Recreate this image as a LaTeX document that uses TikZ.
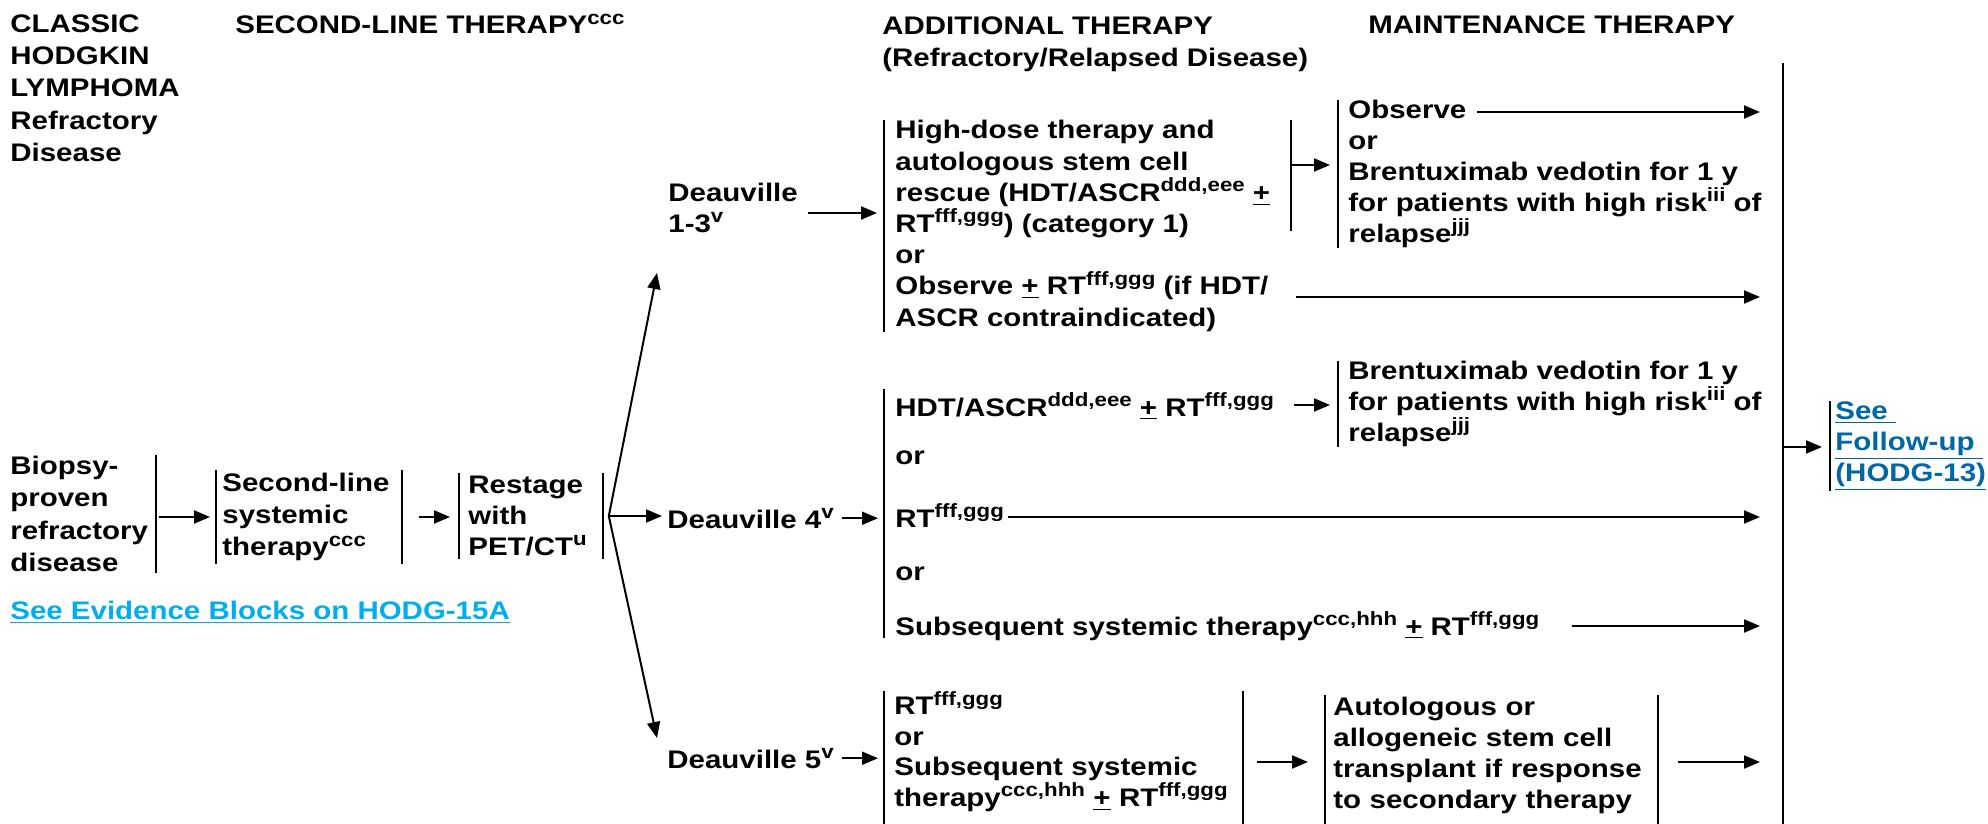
\documentclass[tikz,border=0pt]{standalone}
\usepackage{fontspec}
\setmainfont{Liberation Sans}[FakeStretch=1.16]
\usetikzlibrary{arrows.meta}

\definecolor{evblue}{HTML}{00AEEF}
\definecolor{fublue}{HTML}{0067A5}
\newcommand{\pmu}{\underline{+}}
\newcommand{\su}[1]{\raisebox{0.38em}{\fontsize{9.6}{10}\selectfont #1}}

\begin{document}
\begin{tikzpicture}[x=0.5pt,y=-0.5pt,
  txt/.style={inner sep=0pt,align=left,font=\bfseries\fontsize{12.7}{15.5}\selectfont},
  hdr/.style={txt,font=\bfseries\fontsize{12.7}{16.2}\selectfont},
  arr/.style={line width=1pt,-{Triangle[length=8pt,width=6.5pt]}},
  brk/.style={line width=0.8pt}]
  \useasboundingbox (0,0) rectangle (1988,824);

  % column heads
  \node[hdr,anchor=north west] (hcl) at (10,14) {CLASSIC\\HODGKIN\\LYMPHOMA\\Refractory\\Disease};
  \node[hdr,anchor=base west] (hsl) at (235,34) {SECOND-LINE THERAPY\su{ccc}};
  \node[hdr,anchor=north west] (had) at (882,16) {ADDITIONAL THERAPY\\(Refractory/Relapsed Disease)};
  \node[hdr,anchor=base west] (hmt) at (1368,34) {MAINTENANCE THERAPY};

  % second-line therapy
  \node[hdr,anchor=west,text width=72.5pt,minimum height=59pt] (bio) at (10,514) {Biopsy-\\proven\\refractory\\disease};
  \draw[brk] (bio.north east) -- (bio.south east);
  \node[hdr,anchor=west,inner xsep=3pt,text width=86.5pt,minimum height=47pt] (slt) at (216,517) {Second-line\\systemic\\therapy\su{ccc}};
  \draw[brk] (slt.north west) -- (slt.south west) (slt.north east) -- (slt.south east);
  \node[txt,anchor=west,inner xsep=4.5pt,text width=62.5pt,minimum height=42.5pt] (rst) at (459,516) {Restage\\with\\PET/CT\su{u}};
  \draw[brk] (rst.north west) -- (rst.south west) (rst.north east) -- (rst.south east);
  \coordinate (j0) at (0,517);
  \draw[arr,shorten <=1.5pt,shorten >=3pt] (j0 -| bio.east) -- (j0 -| slt.west);
  \draw[arr,shorten <=8.5pt,shorten >=4.5pt] (j0 -| slt.east) -- (j0 -| rst.west);
  \node[txt,anchor=base west,text=evblue] (evb) at (10,619) {\underline{See Evidence Blocks on HODG-15A}};

  % restaging result
  \coordinate (fork) at ([xshift=3pt]rst.east);
  \coordinate (t13) at (657,273);
  \coordinate (t5) at (657,738);
  \node[txt,anchor=west] (d13) at (668,208) {Deauville\\1-3\su{v}};
  \node[txt,anchor=base west] (d4) at (667,528) {Deauville 4\su{v}};
  \node[txt,anchor=base west] (d5) at (667,768) {Deauville 5\su{v}};
  \draw[arr] (fork) -- (t13);
  \draw[arr,shorten >=2.5pt] (fork) -- (fork -| d4.west);
  \draw[arr] (fork) -- (t5);

  % Deauville 1-3
  \node[txt,anchor=west,inner xsep=5.5pt,font=\bfseries\fontsize{12.7}{15.6}\selectfont] (ad1) at (884,226) {High-dose therapy and\\autologous stem cell\\rescue (HDT/ASCR\su{ddd,eee} \pmu\\RT\su{fff,ggg}) (category 1)\\or\\Observe \pmu\ RT\su{fff,ggg} (if HDT/\\ASCR contraindicated)};
  \draw[brk] (ad1.north west) -- (ad1.south west);
  \coordinate (j13) at (0,213);
  \draw[arr,shorten <=5pt,shorten >=3.5pt] (j13 -| d13.east) -- (j13 -| ad1.west);
  \node[txt,anchor=west,inner xsep=5pt] (mt1) at (1338,174) {Observe\\or\\Brentuximab vedotin for 1 y\\for patients with high risk\su{iii} of\\relapse\su{jjj}};
  \draw[brk] (mt1.north west) -- (mt1.south west);
  \coordinate (j1t) at (1291,120);
  \coordinate (j1b) at (1291,231);
  \coordinate (j1) at (1291,165);
  \draw[brk] (j1t) -- (j1b);
  \draw[arr,shorten >=4pt] (j1) -- (j1 -| mt1.west);

  % follow-up column
  \coordinate (endx) at (1760,0);
  \coordinate (vtop) at (1783,63);
  \coordinate (vbot) at (1783,824);
  \coordinate (vmid) at (1783,447);
  \draw[line width=1pt] (vtop) -- (vbot);
  \node[txt,anchor=west,inner xsep=2.5pt,text=fublue] (fu) at (1830,446) {\underline{See~}\\\underline{Follow-up~}\\\underline{(HODG-13)}};
  \draw[brk] (fu.north west) -- (fu.south west);
  \draw[arr,shorten >=4pt] (vmid) -- (vmid -| fu.west);
  \coordinate (obs) at (1477,112);
  \coordinate (orx) at (1296,297);
  \draw[arr] (obs) -- (obs -| endx);
  \draw[arr] (orx) -- (orx -| endx);

  % Deauville 4
  \coordinate (b4t) at (884,389);
  \coordinate (b4b) at (884,638);
  \draw[brk] (b4t) -- (b4b);
  \draw[arr,shorten <=4pt,shorten >=3pt] (d4.east) -- (d4.east -| b4t);
  \node[txt,anchor=base west] (r4a) at (895,416) {HDT/ASCR\su{ddd,eee} \pmu\ RT\su{fff,ggg}};
  \node[txt,anchor=base west] (r4b) at (895,464) {or};
  \node[txt,anchor=base west] (r4c) at (895,527) {RT\su{fff,ggg}};
  \node[txt,anchor=base west] (r4d) at (895,580) {or};
  \node[txt,anchor=base west] (r4e) at (895,635) {Subsequent systemic therapy\su{ccc,hhh} \pmu\ RT\su{fff,ggg}};
  \node[txt,anchor=west,inner xsep=5pt] (bx4) at (1338,404) {Brentuximab vedotin for 1 y\\for patients with high risk\su{iii} of\\relapse\su{jjj}};
  \draw[brk] (bx4.north west) -- (bx4.south west);
  \coordinate (j2) at (1294,405);
  \coordinate (j4) at (1572,626);
  \draw[arr,shorten >=4pt] (j2) -- (j2 -| bx4.west);
  \draw[arr,shorten <=2pt] ([yshift=5pt]r4c.base east) -- ([yshift=5pt]r4c.base east -| endx);
  \draw[arr] (j4) -- (j4 -| endx);

  % Deauville 5
  \node[txt,anchor=north west,inner xsep=5pt,text width=169pt,font=\bfseries\fontsize{12.7}{15.2}\selectfont] (ad5) at (884,691) {RT\su{fff,ggg}\\or\\Subsequent systemic\\therapy\su{ccc,hhh} \pmu\ RT\su{fff,ggg}};
  \draw[brk] (ad5.north west) -- (ad5.north west |- vbot) (ad5.north east) -- (ad5.north east |- vbot);
  \node[txt,anchor=north west,inner xsep=4pt,text width=158pt,font=\bfseries\fontsize{12.7}{15.4}\selectfont] (au5) at (1325,697) {Autologous or\\allogeneic stem cell\\transplant if response\\to secondary therapy};
  \draw[brk] ([yshift=1pt]au5.north west) -- (au5.north west |- vbot) ([yshift=1pt]au5.north east) -- (au5.north east |- vbot);
  \coordinate (j5) at (0,762);
  \draw[arr,shorten <=4pt,shorten >=3pt] (d5.east) -- (d5.east -| ad5.west);
  \draw[arr,shorten <=7pt,shorten >=8.5pt] (j5 -| ad5.east) -- (j5 -| au5.west);
  \draw[arr,shorten <=10pt] (j5 -| au5.east) -- (j5 -| endx);
\end{tikzpicture}
\end{document}
